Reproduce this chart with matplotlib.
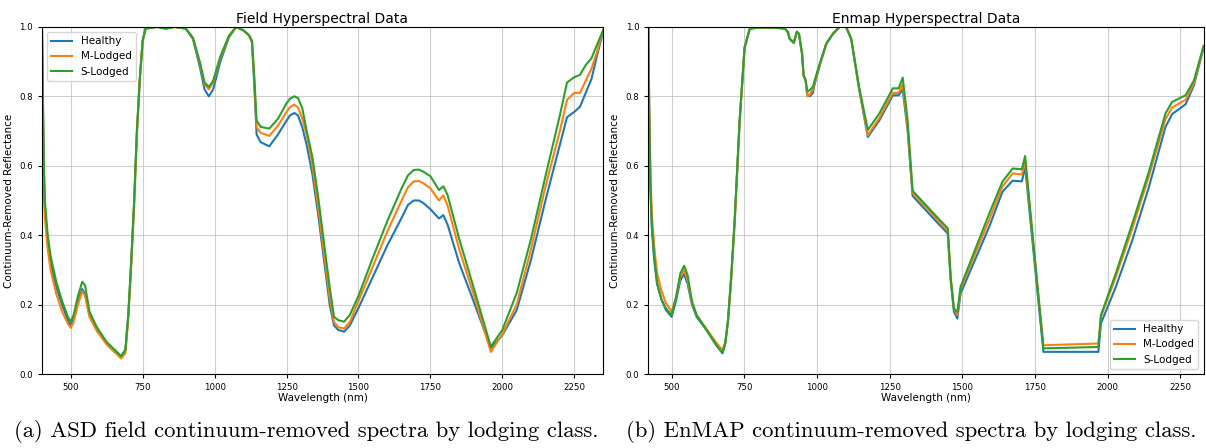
import numpy as np
import matplotlib
matplotlib.use("Agg")
import matplotlib.pyplot as plt

# ASD field spectra (continuum removed)
wl_asd = [400, 403, 406, 410, 420, 430, 450, 470, 490, 500, 510, 525, 540, 550, 565, 590,
          625, 650, 675, 690, 700, 710, 720, 730, 740, 750, 760, 800, 830, 860, 900, 925,
          950, 965, 980, 995, 1020, 1050, 1075, 1100, 1120, 1130, 1138, 1146, 1160, 1190,
          1220, 1250, 1262, 1277, 1290, 1305, 1320, 1340, 1360, 1380, 1400, 1415, 1430,
          1450, 1470, 1500, 1550, 1600, 1650, 1672, 1692, 1710, 1725, 1750, 1780, 1795,
          1810, 1850, 1900, 1960, 2000, 2050, 2100, 2150, 2200, 2225, 2250, 2270, 2290,
          2310, 2330, 2350]
asd_healthy = [1.0, 0.80, 0.60, 0.48, 0.38, 0.32, 0.25, 0.20, 0.155, 0.14, 0.16, 0.21, 0.245,
               0.23, 0.17, 0.13, 0.09, 0.07, 0.05, 0.07, 0.17, 0.32, 0.49, 0.70, 0.85, 0.96,
               0.995, 1.0, 0.995, 1.0, 0.995, 0.965, 0.88, 0.82, 0.80, 0.82, 0.90, 0.97, 1.0,
               0.99, 0.975, 0.955, 0.83, 0.69, 0.668, 0.656, 0.69, 0.73, 0.745, 0.752, 0.745,
               0.71, 0.66, 0.575, 0.46, 0.33, 0.20, 0.14, 0.127, 0.122, 0.14, 0.19, 0.28,
               0.37, 0.45, 0.487, 0.50, 0.50, 0.493, 0.475, 0.448, 0.458, 0.43, 0.32, 0.21,
               0.075, 0.112, 0.184, 0.33, 0.50, 0.66, 0.74, 0.755, 0.77, 0.81, 0.85, 0.92,
               0.985]
asd_mlodged = [1.0, 0.78, 0.57, 0.45, 0.36, 0.30, 0.23, 0.18, 0.145, 0.133, 0.15, 0.20, 0.238,
               0.225, 0.165, 0.125, 0.085, 0.065, 0.045, 0.06, 0.16, 0.31, 0.48, 0.69, 0.85,
               0.96, 0.995, 1.0, 0.995, 1.0, 0.995, 0.967, 0.89, 0.835, 0.82, 0.84, 0.91,
               0.972, 1.0, 0.99, 0.975, 0.957, 0.845, 0.71, 0.695, 0.686, 0.715, 0.755, 0.769,
               0.776, 0.768, 0.735, 0.69, 0.60, 0.48, 0.35, 0.22, 0.15, 0.135, 0.131, 0.15,
               0.21, 0.31, 0.41, 0.50, 0.538, 0.555, 0.556, 0.55, 0.535, 0.50, 0.515, 0.485,
               0.36, 0.23, 0.064, 0.115, 0.20, 0.36, 0.54, 0.70, 0.79, 0.81, 0.81, 0.845,
               0.88, 0.93, 0.99]
asd_slodged = [1.0, 0.82, 0.63, 0.50, 0.40, 0.34, 0.265, 0.21, 0.165, 0.151, 0.17, 0.225,
               0.266, 0.255, 0.18, 0.136, 0.092, 0.072, 0.052, 0.07, 0.17, 0.32, 0.49, 0.70,
               0.85, 0.96, 0.995, 1.0, 0.995, 1.0, 0.995, 0.968, 0.895, 0.84, 0.827, 0.845,
               0.915, 0.975, 1.0, 0.99, 0.976, 0.96, 0.855, 0.73, 0.712, 0.707, 0.735, 0.78,
               0.793, 0.80, 0.795, 0.765, 0.70, 0.625, 0.51, 0.38, 0.25, 0.165, 0.155, 0.151,
               0.17, 0.225, 0.335, 0.44, 0.535, 0.572, 0.588, 0.589, 0.583, 0.57, 0.53,
               0.541, 0.515, 0.39, 0.25, 0.079, 0.127, 0.233, 0.39, 0.57, 0.745, 0.84, 0.855,
               0.862, 0.89, 0.91, 0.95, 0.99]

# EnMAP spectra (continuum removed)
wl_enmap = [420, 423, 427, 432, 440, 450, 465, 480, 500, 515, 530, 543, 555, 570, 586, 620,
            654, 675, 685, 694, 705, 717, 734, 751, 769, 800, 850, 890, 900, 906, 920, 931,
            938, 949, 954, 961, 967, 975, 986, 992, 1010, 1032, 1055, 1078, 1100, 1118,
            1145, 1175, 1215, 1261, 1281, 1295, 1312, 1329, 1421, 1450, 1460, 1471, 1483,
            1494, 1593, 1638, 1673, 1705, 1716, 1779, 1968, 1977, 2028, 2085, 2142, 2199,
            2222, 2268, 2297, 2330]
enmap_healthy = [1.0, 0.75, 0.54, 0.42, 0.33, 0.26, 0.215, 0.185, 0.165, 0.21, 0.27, 0.288,
                 0.26, 0.20, 0.165, 0.127, 0.083, 0.06, 0.09, 0.155, 0.28, 0.443, 0.73, 0.94,
                 0.995, 0.998, 0.998, 0.995, 0.985, 0.966, 0.954, 0.986, 0.98, 0.92, 0.86,
                 0.845, 0.805, 0.80, 0.81, 0.835, 0.89, 0.95, 0.98, 1.0, 1.0, 0.965, 0.82,
                 0.683, 0.731, 0.803, 0.803, 0.82, 0.70, 0.513, 0.43, 0.405, 0.27, 0.18, 0.16,
                 0.232, 0.425, 0.525, 0.557, 0.555, 0.597, 0.064, 0.064, 0.146, 0.251, 0.386,
                 0.539, 0.712, 0.749, 0.777, 0.832, 0.94]
enmap_mlodged = [1.0, 0.78, 0.58, 0.46, 0.37, 0.29, 0.24, 0.205, 0.18, 0.22, 0.28, 0.30,
                 0.27, 0.205, 0.17, 0.13, 0.09, 0.068, 0.095, 0.15, 0.275, 0.44, 0.725, 0.94,
                 0.995, 0.998, 0.998, 0.995, 0.985, 0.966, 0.954, 0.986, 0.98, 0.92, 0.86,
                 0.845, 0.80, 0.805, 0.82, 0.84, 0.893, 0.952, 0.98, 1.0, 1.0, 0.965, 0.822,
                 0.688, 0.738, 0.81, 0.81, 0.835, 0.71, 0.522, 0.438, 0.412, 0.275, 0.19, 0.17,
                 0.245, 0.445, 0.54, 0.578, 0.575, 0.612, 0.083, 0.088, 0.165, 0.28, 0.42,
                 0.57, 0.735, 0.768, 0.79, 0.838, 0.945]
enmap_slodged = [1.0, 0.76, 0.55, 0.43, 0.34, 0.262, 0.215, 0.19, 0.17, 0.22, 0.29, 0.312,
                 0.285, 0.21, 0.17, 0.127, 0.083, 0.061, 0.09, 0.155, 0.28, 0.443, 0.73, 0.94,
                 0.995, 0.998, 0.998, 0.995, 0.985, 0.966, 0.954, 0.986, 0.98, 0.923, 0.861,
                 0.846, 0.813, 0.818, 0.827, 0.846, 0.895, 0.952, 0.98, 1.0, 1.0, 0.965,
                 0.827, 0.703, 0.751, 0.823, 0.823, 0.854, 0.73, 0.528, 0.445, 0.42, 0.28,
                 0.189, 0.179, 0.251, 0.463, 0.554, 0.592, 0.59, 0.628, 0.074, 0.078, 0.17,
                 0.29, 0.434, 0.583, 0.751, 0.784, 0.803, 0.846, 0.945]

class_names = ["Healthy", "M-Lodged", "S-Lodged"]
colors = ["#1f77b4", "#ff7f0e", "#2ca02c"]

fig = plt.figure(figsize=(12.06, 4.48), dpi=100)
ax1 = fig.add_axes([0.0348, 0.165, 0.4652, 0.775])
ax2 = fig.add_axes([0.5376, 0.165, 0.4604, 0.775])

panels = [
    (ax1, wl_asd, [asd_healthy, asd_mlodged, asd_slodged], "Field Hyperspectral Data",
     (400, 2350), "upper left"),
    (ax2, wl_enmap, [enmap_healthy, enmap_mlodged, enmap_slodged], "Enmap Hyperspectral Data",
     (420, 2330), "lower right"),
]

for ax, wl, series, title, xlim, loc in panels:
    for vals, name, c in zip(series, class_names, colors):
        ax.plot(wl, vals, color=c, lw=1.5, label=name)
    ax.set_xlim(*xlim)
    ax.set_ylim(0, 1.0)
    ax.set_xticks([500, 750, 1000, 1250, 1500, 1750, 2000, 2250])
    ax.set_yticks([0.0, 0.2, 0.4, 0.6, 0.8, 1.0])
    ax.tick_params(labelsize=6.2, length=3)
    ax.grid(True, alpha=0.6)
    ax.set_title(title, fontsize=10, pad=3)
    ax.set_xlabel("Wavelength (nm)", fontsize=7.5, labelpad=1)
    ax.set_ylabel("Continuum-Removed Reflectance", fontsize=7.5, labelpad=4)
    ax.legend(loc=loc, fontsize=7.5)

# captions under each panel
fig.text(0.254, 0.036, "(a) ASD field continuum-removed spectra by lodging class.",
         family="cmr10", fontsize=16.3, ha="center", va="center")
fig.text(0.756, 0.036, "(b) EnMAP continuum-removed spectra by lodging class.",
         family="cmr10", fontsize=16.3, ha="center", va="center")

fig.savefig("out.png", dpi=100)
